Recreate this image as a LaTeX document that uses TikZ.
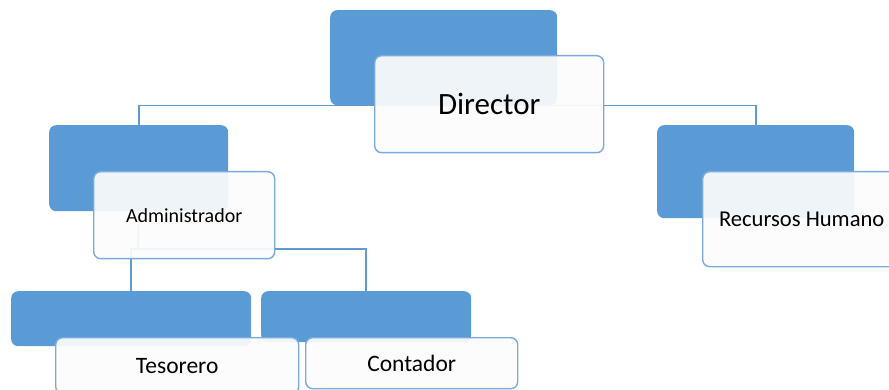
\documentclass[tikz,border=0pt]{standalone}
\usepackage{fontspec}
\setmainfont{Carlito}
\definecolor{accent}{HTML}{5B9BD5}
\definecolor{edgeblue}{HTML}{7AAAE0}
\definecolor{linkblue}{HTML}{6199D2}
\begin{document}
\begin{tikzpicture}[x=1pt,y=-1pt,
  backbox/.style={draw=none,fill=accent,rounded corners=7pt,inner sep=0pt,anchor=north west},
  frontbox/.style={draw=edgeblue,line width=1.4pt,fill=white!99!black,fill opacity=0.92,text opacity=1,
    rounded corners=7pt,inner sep=0pt,anchor=north west,align=center},
  link/.style={draw=linkblue,line width=1.6pt}]
\useasboundingbox (0,0) rectangle (889,390);

% coloured backing panels
\node[backbox,minimum width=227pt,minimum height=95pt] (dirB) at (330,10) {};
\node[backbox,minimum width=179pt,minimum height=86pt] (admB) at (49,125) {};
\node[backbox,minimum width=197pt,minimum height=93pt] (rhB) at (657,125) {};
\node[backbox,minimum width=240pt,minimum height=55pt] (tesB) at (11,291) {};
\node[backbox,minimum width=210pt,minimum height=51pt] (conB) at (261,291) {};

% connectors between levels
\coordinate (admJ) at (138,249);
\draw[link] (admB.north) |- (dirB.south) -| (rhB.north);
\draw[link] (admB.south) -- (admJ);
\draw[link] (tesB.north) |- (admJ) -| (conB.north);

% text cards
\node[frontbox,minimum width=229pt,minimum height=97pt,font=\fontsize{31}{36}\selectfont] (dir) at (374,55) {Director};
\node[frontbox,minimum width=181pt,minimum height=87pt,font=\fontsize{20}{24}\selectfont] (adm) at (93,171) {Administrador};
\node[frontbox,minimum width=198pt,minimum height=95pt,font=\fontsize{22.6}{27}\selectfont] (rh) at (702,171) {Recursos Humano};
\node[frontbox,minimum width=243pt,minimum height=56pt,font=\fontsize{23.5}{28}\selectfont] (tes) at (55,337) {Tesorero};
\node[frontbox,minimum width=212pt,minimum height=51pt,font=\fontsize{23.5}{28}\selectfont] (con) at (305,337) {Contador};
\end{tikzpicture}
\end{document}
